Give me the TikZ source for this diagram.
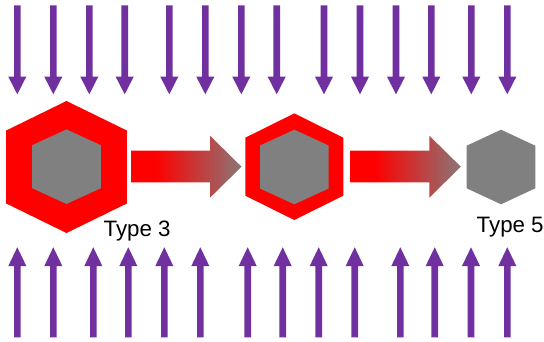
\documentclass[tikz,border=0pt]{standalone}
\usepackage{fontspec}
\setmainfont{Liberation Sans}
\definecolor{purp}{HTML}{7030A0}
\definecolor{hexgray}{HTML}{808080}
\pgfdeclarehorizontalshading{redgray}{100bp}{color(0bp)=(red); color(25bp)=(red); color(36bp)=(red); color(75bp)=(hexgray!92!red); color(100bp)=(hexgray!92!red)}
\tikzset{
  purparrow/.style={fill=purp, draw=none},
  outerhex/.style={fill=red, draw=none},
  innerhex/.style={fill=hexgray, draw=none},
  gradarrow/.style={shading=redgray, draw=none},
  typelabel/.style={font=\fontsize{22.3}{25}\selectfont, inner sep=0pt, anchor=base west}
}
\newcommand{\hexshape}[6]{% cx cy w h a style
  \path[#6] (#1,#2-#4) -- (#1+#3,#2-#5) -- (#1+#3,#2+#5) -- (#1,#2+#4) -- (#1-#3,#2+#5) -- (#1-#3,#2-#5) -- cycle;}
\newcommand{\fatarrow}[2]{% xstart xhead
  \path[gradarrow] (#1,150.7) -- (#2,150.7) -- (#2,135.7) -- (#2+31.5,166.7) -- (#2,197.7) -- (#2,182.3) -- (#1,182.3) -- cycle;}
\begin{document}
\begin{tikzpicture}[x=1pt,y=-1pt]
\useasboundingbox (0,0) rectangle (544,342);
% top arrows
\foreach \x in {17.3,53.3,89.3,124.7,169.3,205.3,241.3,276.7,324,360,396,431.3,471.3,507.3}{
  \path[purparrow] (\x-3.3,5.3) -- (\x+3.3,5.3) -- (\x+3.3,76.7) -- (\x+9,76.7) -- (\x,94.3) -- (\x-9,76.7) -- (\x-3.3,76.7) -- cycle;
}
% bottom arrows
\foreach \x in {17.3,53.3,93.3,128.3,164.3,200.3,247.7,282.7,318.7,354.7,400.3,434.7,471,507.3}{
  \path[purparrow] (\x-3.3,337.3) -- (\x+3.3,337.3) -- (\x+3.3,266) -- (\x+9,266) -- (\x,247.3) -- (\x-9,266) -- (\x-3.3,266) -- cycle;
}
% hexagons
\hexshape{66.5}{167}{60.3}{66}{36.5}{outerhex}
\hexshape{66.5}{166.7}{34.3}{37.3}{21.5}{innerhex}
\hexshape{294.3}{166.7}{49}{53.3}{29}{outerhex}
\hexshape{294.3}{167}{34.3}{37.3}{21.5}{innerhex}
\hexshape{501}{167}{34.3}{37.3}{21.3}{innerhex}
% gradient arrows
\fatarrow{131}{210}
\fatarrow{350.3}{429.3}
% labels
\node[typelabel] (t3) at (103.5,236.7) {Type 3};
\node[typelabel] (t5) at (476.5,232.7) {Type 5};
\end{tikzpicture}
\end{document}
